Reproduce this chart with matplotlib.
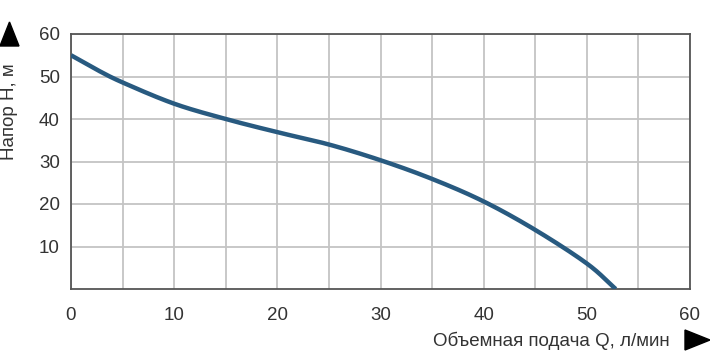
import numpy as np
import matplotlib.pyplot as plt
from matplotlib.patches import Polygon

# Кривая напора насоса
q = [0, 2.5, 5, 10, 15, 20, 25, 30, 35, 40, 45, 50, 52.8]
h = [55, 51.6, 48.6, 43.6, 40.0, 36.9, 34.0, 30.3, 25.9, 20.6, 13.9, 6.0, 0]
x_ticks = [0, 10, 20, 30, 40, 50, 60]
y_ticks = [10, 20, 30, 40, 50, 60]

plt.rcParams['font.family'] = ['Liberation Sans', 'DejaVu Sans']

W, H = 710, 351
fig = plt.figure(figsize=(W / 100, H / 100), dpi=100)
ax = fig.add_axes([71/W, 1 - 289/H, 619/W, 255/H])


# сглаживание: сплайн Катмулла-Рома через точки
def catmull(xs, ys, n=40):
    p = np.column_stack([xs, ys]).astype(float)
    p = np.vstack([2 * p[0] - p[1], p, 2 * p[-1] - p[-2]])
    out = []
    t = np.linspace(0, 1, n, endpoint=False)[:, None]
    for i in range(1, len(p) - 2):
        p0, p1, p2, p3 = p[i - 1], p[i], p[i + 1], p[i + 2]
        seg = 0.5 * ((2 * p1) + (-p0 + p2) * t + (2 * p0 - 5 * p1 + 4 * p2 - p3) * t**2
                     + (-p0 + 3 * p1 - 3 * p2 + p3) * t**3)
        out.append(seg)
    out.append(p[-2][None, :])
    return np.vstack(out)


c = catmull(q, h)
ax.plot(c[:, 0], c[:, 1], color='#285a80', lw=3.2, solid_capstyle='butt', zorder=3)

ax.set_xlim(0, 60)
ax.set_ylim(0, 60)
ax.set_xticks(x_ticks)
ax.set_xticks(np.arange(5, 60, 10), minor=True)
ax.set_yticks(y_ticks)
ax.grid(True, which='both', color='#c4c4c4', lw=1.3)
ax.tick_params(which='both', length=0, labelsize=13.5, colors='#333333')
ax.tick_params(axis='x', pad=13)
ax.tick_params(axis='y', pad=8)
for s in ax.spines.values():
    s.set_color('#555555')
    s.set_linewidth(1.3)

fig.text(10/W, 1 - 112/H, 'Напор Н, м', rotation=90, ha='center', va='center',
         fontsize=13.5, color='#333333')
fig.text(551/W, 1 - 341/H, 'Объемная подача Q, л/мин', ha='center', va='center',
         fontsize=13.5, color='#333333')

# стрелки-треугольники у подписей осей
up = [(0, 46), (19, 46), (9.5, 22)]
right = [(685, 330), (685, 350), (710, 340)]
for tri in (up, right):
    pts = [(x / W, 1 - y / H) for x, y in tri]
    fig.patches.append(Polygon(pts, closed=True, color='black',
                               transform=fig.transFigure, figure=fig))

fig.savefig('out.png', dpi=100)
